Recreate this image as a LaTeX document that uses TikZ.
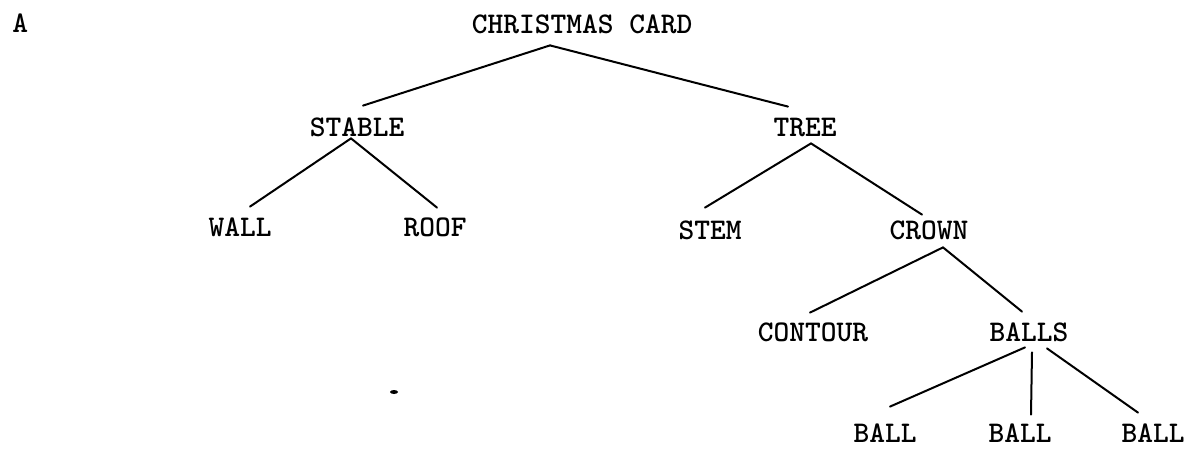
\documentclass[tikz,border=0pt]{standalone}
\usetikzlibrary{calc}
\begin{document}
\begin{tikzpicture}[x=0.5pt, y=-0.5pt,
  lbl/.style={inner sep=0pt, text height=9pt, text depth=0pt,
              font=\fontsize{15}{18}\selectfont\ttfamily\bfseries},
  branch/.style={line width=1pt, line cap=round}]
\useasboundingbox (0,0) rectangle (1194,465);

% labels
\node[lbl, anchor=west] (a) at (12,24) {A};
\node[lbl] (cc) at (582,25) {CHRISTMAS CARD};
\node[lbl] (stable) at (357,127) {STABLE};
\node[lbl] (tree) at (805,128) {TREE};
\node[lbl] (wall) at (240,227) {WALL};
\node[lbl] (roof) at (435,227) {ROOF};
\node[lbl] (stem) at (710,230) {STEM};
\node[lbl] (crown) at (929,230) {CROWN};
\node[lbl] (contour) at (813,332) {CONTOUR};
\node[lbl] (balls) at (1029,332) {BALLS};
\node[lbl] (ballA) at (885,433) {BALL};
\node[lbl] (ballB) at (1020,433) {BALL};
\node[lbl] (ballC) at (1153,433) {BALL};

% branches
\draw[branch] ($(cc.south)+(-32,11)$) -- ($(stable.north)+(6,-12)$);
\draw[branch] ($(cc.south)+(-32,11)$) -- ($(tree.north)+(-17,-12)$);
\draw[branch] ($(stable.south)+(-6,2)$) -- ($(wall.north)+(10,-11)$);
\draw[branch] ($(stable.south)+(-6,2)$) -- ($(roof.north)+(2,-10)$);
\draw[branch] ($(tree.south)+(6,6)$) -- ($(stem.north)+(-5,-13)$);
\draw[branch] ($(tree.south)+(6,6)$) -- ($(crown.north)+(-7,-6)$);
\draw[branch] ($(crown.south)+(14,8)$) -- ($(contour.north)+(-3,-10)$);
\draw[branch] ($(crown.south)+(14,8)$) -- ($(balls.north)+(-7,-11)$);
\draw[branch] ($(balls.south)+(-4,6)$) -- ($(ballA.north)+(5,-17)$);
\draw[branch] ($(balls.south)+(3,11)$) -- ($(ballB.north)+(11,-9)$);
\draw[branch] ($(balls.south)+(18,7)$) -- ($(ballC.north)+(-15,-11)$);

% small mark below the stable
\fill (394,392) ellipse [x radius=4, y radius=2];
\end{tikzpicture}
\end{document}
